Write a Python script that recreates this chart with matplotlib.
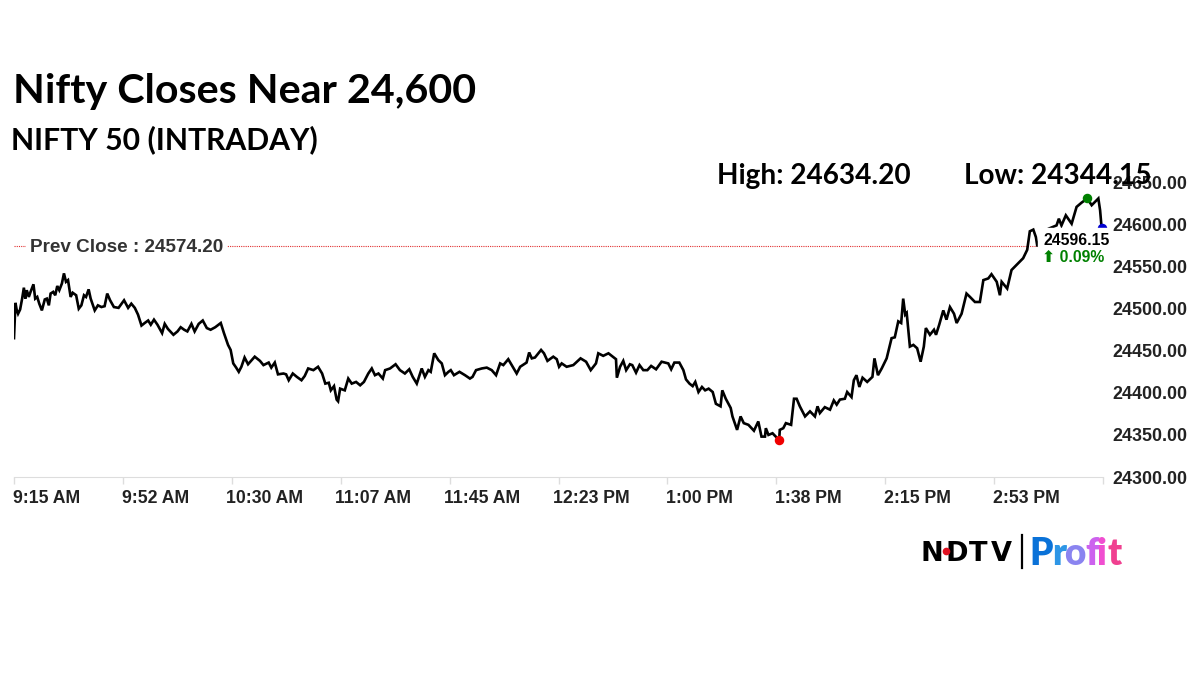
import matplotlib
matplotlib.use('Agg')
import matplotlib.pyplot as plt
from matplotlib.lines import Line2D
from matplotlib.patches import Rectangle
from matplotlib.transforms import ScaledTranslation

# minutes after 9:15
minutes = [0, 0.5, 0.9, 1.4, 2.1, 2.8, 3.4, 3.9, 4.4, 5.1, 5.7, 6.7, 7.3, 8.0, 8.7, 9.6, 10.6, 11.3, 12.0, 12.6,
           13.5, 14.2, 14.9, 15.6, 16.5, 17.2, 17.9, 18.6, 19.5, 20.2, 21.4, 22.3, 23.2, 24.1, 24.8, 25.7, 26.4, 27.8, 28.9, 30.1,
           31.2, 32.1, 33.1, 34.4, 36.0, 37.9, 39.3, 40.4, 41.6, 42.7, 43.9, 45.0, 46.2, 47.1, 48.2, 49.4, 51.0, 51.9, 53.0, 54.9,
           56.3, 57.4, 58.6, 59.7, 61.1, 62.2, 63.6, 65.0, 66.4, 67.7, 69.3, 71.2, 72.3, 73.7, 74.6, 75.5, 76.5, 77.4, 78.3, 79.4,
           80.6, 82.9, 84.7, 85.9, 87.7, 88.6, 89.8, 90.9, 92.8, 93.7, 94.6, 96.0, 97.4, 99.0, 100.1, 101.3, 103.1, 104.7, 106.1, 107.2,
           108.4, 109.1, 110.2, 111.1, 111.6, 112.3, 113.9, 115.1, 116.3, 117.8, 119.2, 120.5, 122.0, 123.2, 124.3, 125.5, 127.0, 127.8, 129.5, 131.4,
           132.9, 134.6, 136.1, 137.3, 138.7, 140.4, 141.5, 142.7, 143.5, 144.7, 146.1, 147.3, 148.4, 149.6, 150.4, 151.5, 153.4, 155.3, 157.0, 157.9,
           159.1, 161.1, 162.8, 164.5, 166.0, 167.4, 168.5, 170.2, 171.4, 173.1, 174.3, 176.5, 177.4, 178.3, 179.4, 181.5, 182.5, 183.7, 185.7, 186.9,
           187.7, 188.6, 190.3, 192.6, 195.1, 197.0, 198.6, 200.4, 201.2, 202.9, 204.7, 207.3, 207.6, 208.7, 209.8, 210.8, 212.1, 212.9, 214.2, 215.4,
           216.7, 218.1, 219.4, 221.1, 223.0, 225.3, 226.3, 227.4, 229.1, 230.5, 231.4, 232.6, 233.7, 234.6, 235.7, 236.9, 238.0, 239.2, 240.6, 241.7,
           243.3, 243.9, 245.1, 246.8, 247.4, 249.0, 250.2, 251.3, 252.9, 254.8, 256.3, 257.4, 258.6, 258.9, 259.8, 261.2, 262.6, 263.5, 263.7, 264.9,
           265.8, 267.6, 268.6, 269.5, 270.6, 272.4, 274.1, 275.8, 276.7, 277.5, 279.2, 281.0, 282.3, 283.3, 284.4, 286.1, 286.9, 288.4, 289.2, 290.1,
           291.1, 292.2, 293.8, 295.6, 296.3, 297.5, 298.8, 300.5, 302.2, 303.3, 304.5, 305.5, 306.2, 306.9, 307.4, 308.5, 309.7, 311.0, 312.2, 313.3,
           314.0, 315.4, 316.8, 317.5, 318.6, 320.0, 321.1, 322.3, 323.7, 324.6, 326.3, 328.0, 329.2, 330.9, 332.6, 333.8, 335.5, 336.6, 338.4, 339.5,
           340.1, 342.0, 343.5, 345.2, 347.5, 348.9, 349.8, 351.0, 351.9, 352.4, 353.3, 355.0, 356.2, 359.0, 359.8, 360.7, 362.2, 364.2, 365.9, 367.6,
           369.6, 371.1, 373.4, 374.0, 374.5]
prices = [24465, 24507, 24499, 24494, 24499, 24512, 24525, 24512, 24522, 24514, 24520, 24529, 24512, 24514, 24506, 24498, 24511, 24512, 24504, 24518,
          24520, 24516, 24527, 24522, 24530, 24542, 24532, 24534, 24514, 24519, 24516, 24500, 24504, 24516, 24514, 24523, 24512, 24498, 24504, 24502,
          24503, 24518, 24510, 24502, 24501, 24510, 24501, 24506, 24501, 24493, 24480, 24483, 24486, 24481, 24487, 24481, 24471, 24482, 24476, 24469,
          24473, 24478, 24475, 24473, 24482, 24473, 24482, 24486, 24477, 24475, 24478, 24483, 24471, 24457, 24451, 24435, 24430, 24425, 24431, 24442,
          24434, 24443, 24438, 24433, 24436, 24430, 24436, 24422, 24423, 24422, 24415, 24423, 24419, 24415, 24420, 24429, 24427, 24431, 24423, 24411,
          24412, 24403, 24408, 24392, 24390, 24405, 24403, 24417, 24411, 24413, 24409, 24413, 24423, 24429, 24421, 24423, 24417, 24427, 24429, 24434,
          24427, 24423, 24428, 24419, 24411, 24429, 24419, 24427, 24425, 24447, 24439, 24435, 24421, 24425, 24427, 24421, 24425, 24421, 24417, 24419,
          24427, 24429, 24430, 24427, 24421, 24435, 24433, 24440, 24433, 24423, 24431, 24436, 24448, 24441, 24442, 24451, 24447, 24438, 24443, 24440,
          24431, 24435, 24431, 24433, 24441, 24437, 24427, 24435, 24447, 24444, 24447, 24440, 24418, 24431, 24438, 24427, 24434, 24433, 24424, 24433,
          24427, 24427, 24432, 24428, 24437, 24435, 24428, 24436, 24436, 24427, 24416, 24411, 24408, 24413, 24401, 24407, 24403, 24405, 24401, 24387,
          24384, 24403, 24393, 24382, 24372, 24356, 24372, 24364, 24362, 24355, 24366, 24348, 24348, 24358, 24350, 24352, 24347, 24345, 24356, 24358,
          24364, 24362, 24393, 24393, 24384, 24372, 24378, 24372, 24384, 24376, 24383, 24380, 24391, 24386, 24392, 24393, 24401, 24395, 24415, 24421,
          24407, 24418, 24413, 24419, 24441, 24421, 24429, 24441, 24465, 24466, 24485, 24483, 24512, 24493, 24495, 24455, 24457, 24453, 24437, 24455,
          24477, 24469, 24475, 24469, 24481, 24498, 24487, 24502, 24494, 24483, 24494, 24518, 24514, 24508, 24508, 24534, 24536, 24541, 24532, 24516,
          24532, 24524, 24546, 24552, 24560, 24570, 24592, 24594, 24585, 24574, 24582, 24590, 24595, 24599, 24607, 24599, 24611, 24601, 24621, 24626,
          24631, 24623, 24631, 24617, 24597]

time_ticks = [0, 37.5, 75, 112.5, 150, 187.5, 225, 262.5, 300, 337.5, 375]
time_labels = ['9:15 AM', '9:52 AM', '10:30 AM', '11:07 AM', '11:45 AM', '12:23 PM', '1:00 PM', '1:38 PM', '2:15 PM', '2:53 PM', '']
price_ticks = [24300, 24350, 24400, 24450, 24500, 24550, 24600, 24650]

prev_close = 24574.20
close_price = 24596.15
high_time, high_price = 369.6, 24632
low_time, low_price = 263.5, 24344.15

W, H = 1200, 675
SANS = ['Liberation Sans', 'DejaVu Sans']


def put(x, y, s, **kw):
    # text placed by reference pixel
    return fig.text(x / W, 1 - y / H, s, **kw)


fig = plt.figure(figsize=(12, 6.75), dpi=100, facecolor='white')
ax = fig.add_axes([14 / W, 1 - 477 / H, (1103 - 14) / W, (477 - 182.5) / H])
ax.set_xlim(0, 375)
ax.set_ylim(24300, 24650)
for side in ['top', 'left', 'right']:
    ax.spines[side].set_visible(False)
ax.spines['bottom'].set_color('#dddddd')

ax.plot(minutes, prices, color='black', lw=1.9, solid_joinstyle='miter', zorder=2)
ax.axhline(prev_close, color='#e03030', lw=0.8, ls=(0, (1, 1)), zorder=1)
ax.scatter([low_time], [low_price], s=34, color='#f00000', zorder=3, clip_on=False)
ax.scatter([high_time], [high_price], s=34, color='green', zorder=3, clip_on=False)
ax.scatter([374.6], [close_price], s=34, color='#0000d0', zorder=3, clip_on=False)

# white box of the last price label hides line and dot below it
ax.add_patch(Rectangle((352.6, 24552), 24.4, close_price - 24552, color='white', zorder=4, clip_on=False))

ax.set_xticks(time_ticks)
ax.set_xticklabels(time_labels, ha='center', fontfamily=SANS, fontweight='bold', fontsize=12.7, color='#222222')
ax.tick_params(axis='x', length=5, width=1, color='#dddddd', pad=4.5)
# the time labels sit to the right of their ticks
shift = ScaledTranslation(32.5 / 100, 0, fig.dpi_scale_trans)
for lab in ax.get_xticklabels():
    lab.set_transform(lab.get_transform() + shift)
ax.yaxis.tick_right()
ax.set_yticks(price_ticks)
ax.set_yticklabels(['%.2f' % p for p in price_ticks], fontfamily=SANS, fontweight='bold', fontsize=12.9, color='#222222')
ax.tick_params(axis='y', length=0, pad=7)

put(30, 248, 'Prev Close : 24574.20', family=SANS, fontweight='bold', fontsize=13.55, color='#333333', va='center', zorder=6,
    bbox=dict(facecolor='white', edgecolor='none', pad=3))
put(1044, 240, '24596.15', family=SANS, fontweight='bold', fontsize=11.3, color='black', va='center', zorder=6)
put(1042, 257.5, '⬆ 0.09%', family=SANS, fontweight='bold', fontsize=11.3, color='green', va='center', zorder=6)

put(13, 91, 'Nifty Closes Near 24,600', family='Lato', fontweight='bold', fontsize=29.7, color='black', va='center', zorder=6)
put(11, 140, 'NIFTY 50 (INTRADAY)', family='Lato', fontweight='bold', fontsize=21.7, color='black', va='center', zorder=6)
put(717, 176, 'High: 24634.20', family='Lato', fontweight='bold', fontsize=20.2, color='black', va='center', zorder=6)
put(964, 176, 'Low: 24344.15', family='Lato', fontweight='bold', fontsize=20.2, color='black', va='center', zorder=6)

# logo
ndtv_letters = ['N', 'D', 'T', 'V']
ndtv_x = [920, 946, 969, 991]
for ch, x in zip(ndtv_letters, ndtv_x):
    put(x, 561, ch, family='DejaVu Sans', fontweight='bold', fontsize=19.5, color='black', va='baseline', zorder=6)
fig.add_artist(Line2D([946 / W], [1 - 551 / H], marker='o', ms=4.5, color='#e01020', ls='none', zorder=7))
fig.add_artist(Line2D([1022 / W, 1022 / W], [1 - 535 / H, 1 - 568 / H], color='black', lw=1.6, zorder=6))
logo_letters = ['P', 'r', 'o', 'f', 'i', 't']
logo_x = [1029, 1052, 1064, 1085, 1097, 1107]
logo_colors = ['#0a72d8', '#2e96e6', '#8a84f0', '#cc62ee', '#f04ed0', '#f04090']
for ch, x, c in zip(logo_letters, logo_x, logo_colors):
    put(x, 565, ch, family='Lato', fontweight='heavy', fontsize=26.5, color=c, va='baseline', zorder=6)

fig.savefig('out.png', dpi=100, facecolor='white')
